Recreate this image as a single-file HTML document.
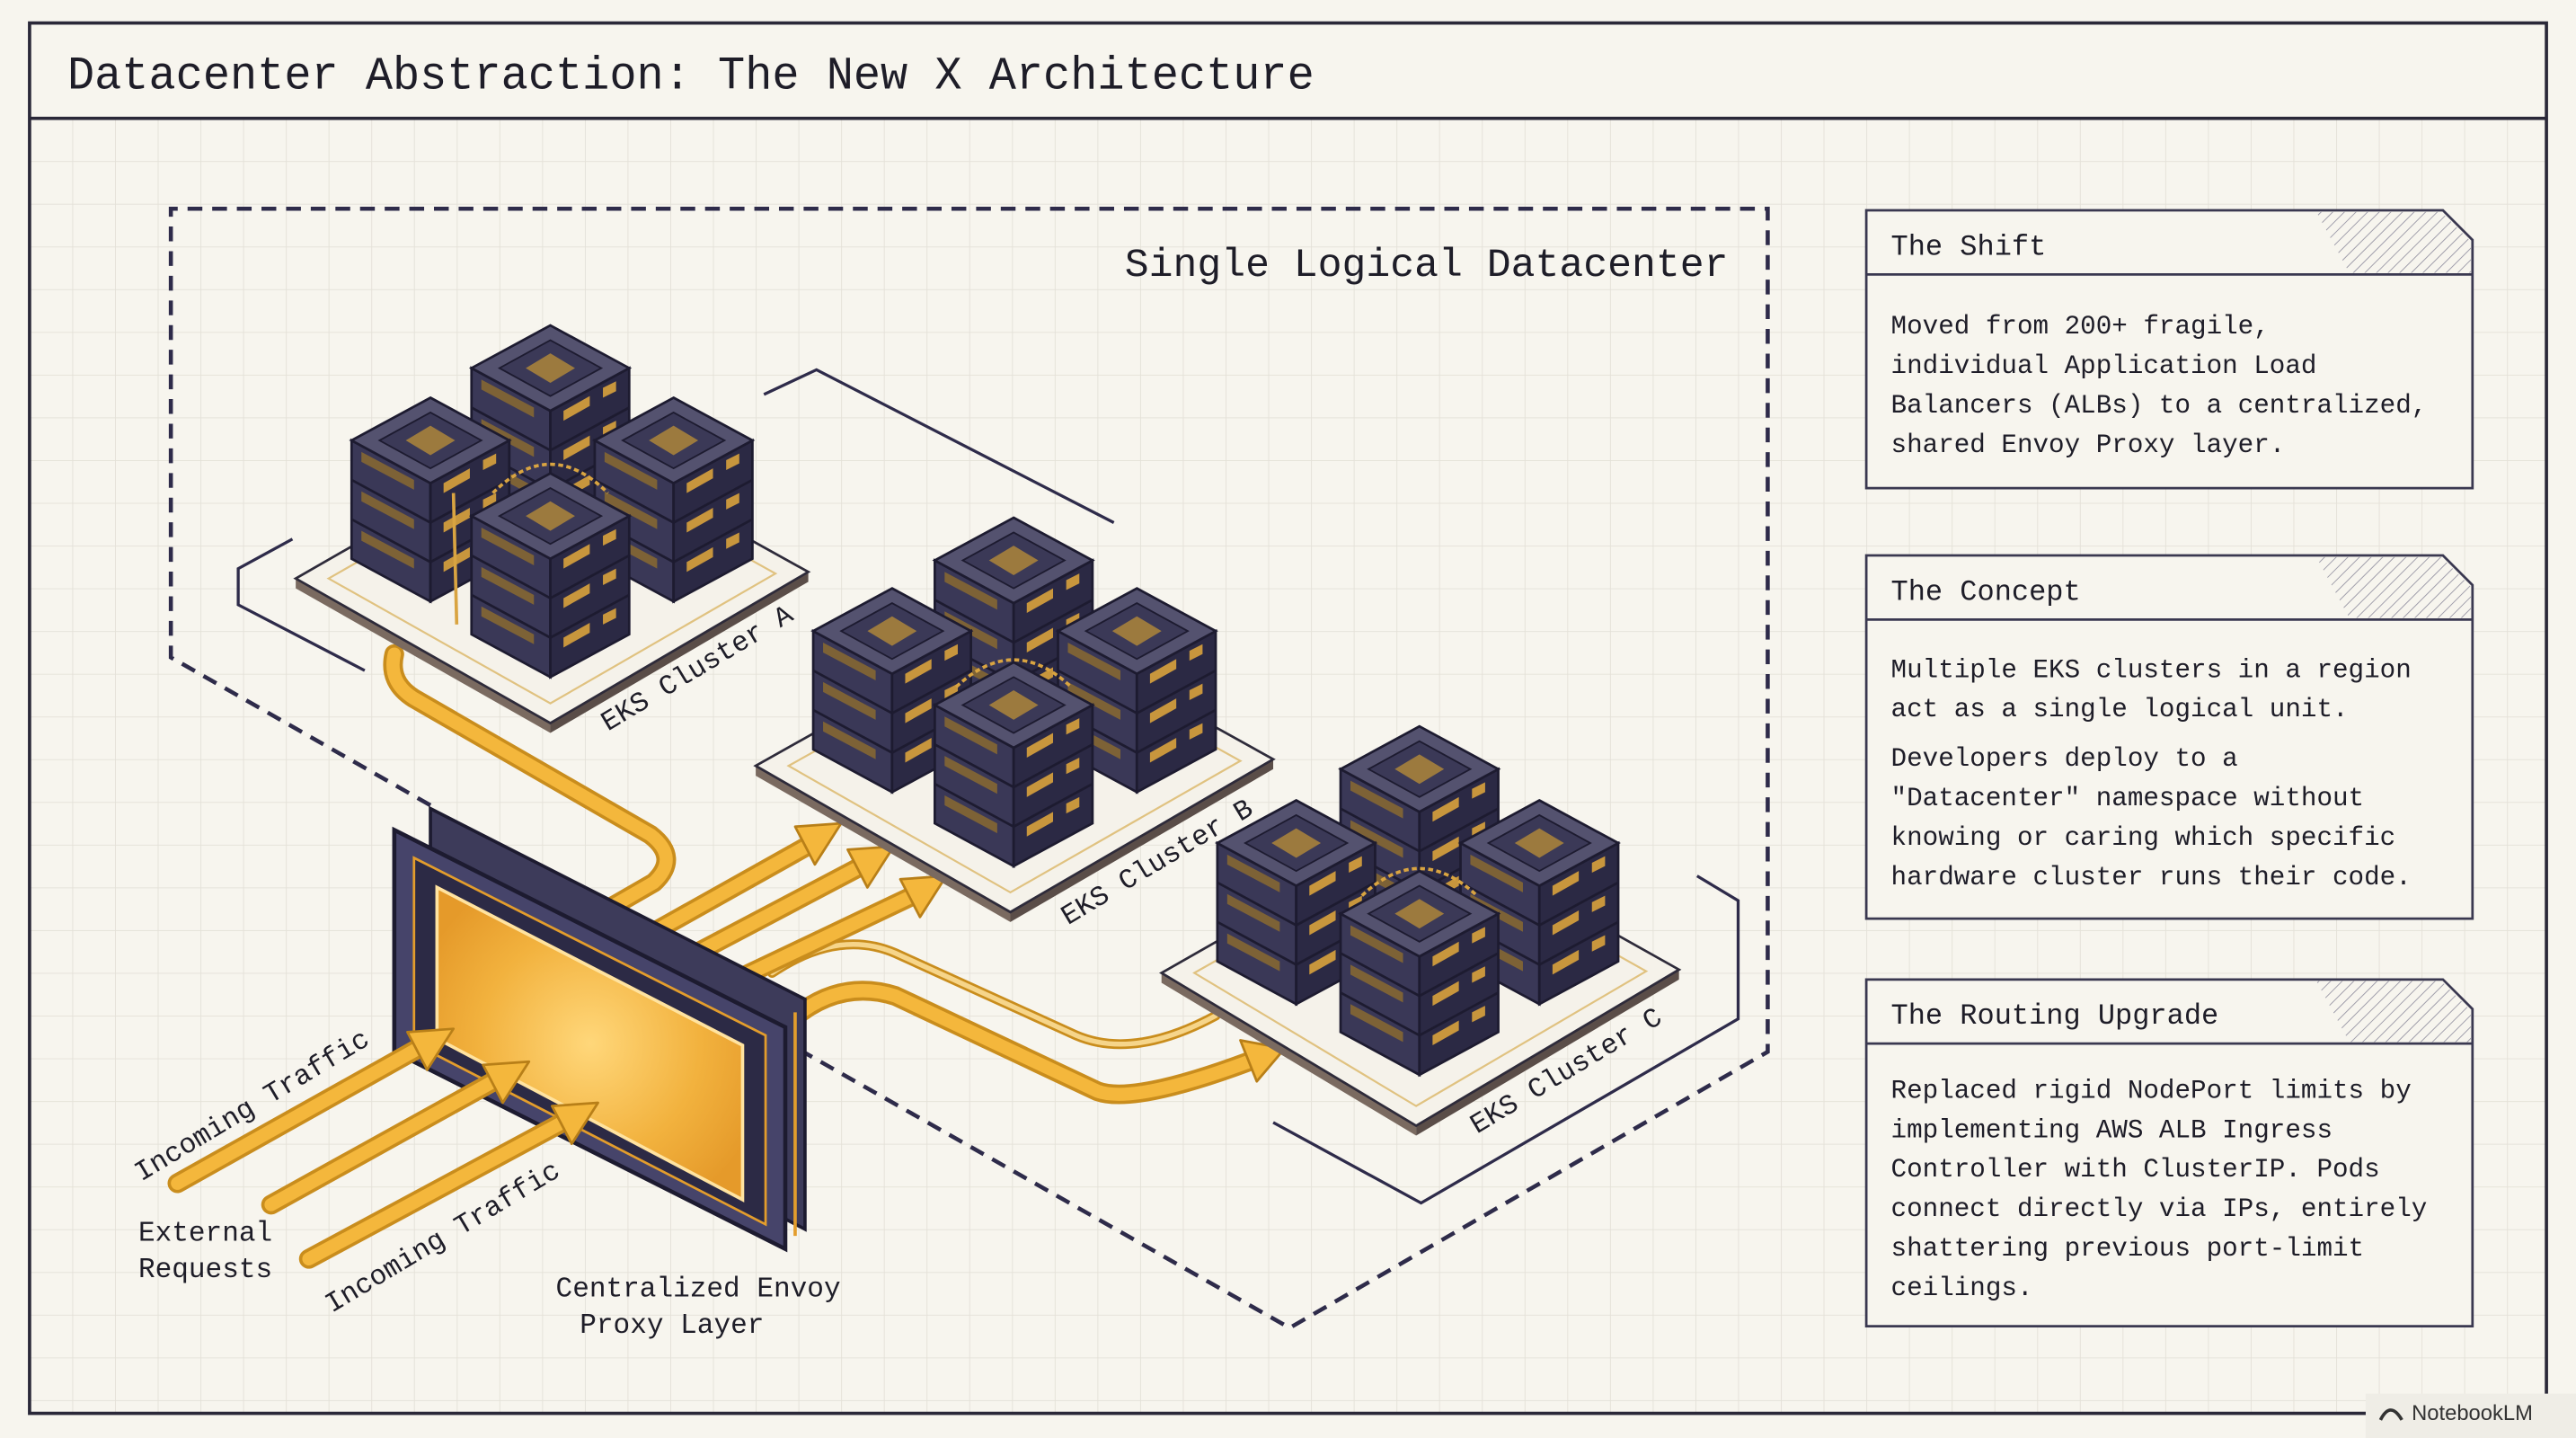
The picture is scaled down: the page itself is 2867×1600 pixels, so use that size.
<!DOCTYPE html>
<html><head><meta charset="utf-8"><style>
html,body{margin:0;padding:0;background:#f7f5ee;}
svg{display:block;}
</style></head><body>
<svg width="2867" height="1600" viewBox="0 0 1568 875" preserveAspectRatio="none" xmlns="http://www.w3.org/2000/svg">
<defs>
<pattern id="grid" width="26" height="26" patternUnits="userSpaceOnUse" x="18" y="72">
<path d="M26 0 L0 0 0 26" fill="none" stroke="#e4e1d8" stroke-width="1"/>
</pattern>
<pattern id="hatch" width="5" height="5" patternUnits="userSpaceOnUse" patternTransform="rotate(45)">
<line x1="0" y1="0" x2="0" y2="5" stroke="#9a98a6" stroke-width="1"/>
</pattern>
<radialGradient id="scr" cx="0.5" cy="0.5" r="0.6">
<stop offset="0" stop-color="#ffd77a"/><stop offset="0.6" stop-color="#f2b23e"/><stop offset="1" stop-color="#e59a2a"/>
</radialGradient>
<g id="tower">
<polygon points="-48,26 0,52 0,124 -48,98" fill="#3a3857" stroke="#1d1b30" stroke-width="1.5"/>
<polygon points="48,26 0,52 0,124 48,98" fill="#2b2944" stroke="#1d1b30" stroke-width="1.5"/>
<polygon points="0,0 48,26 0,52 -48,26" fill="#54526f" stroke="#1d1b30" stroke-width="1.5"/>
<polygon points="0,9 31,26 0,43 -31,26" fill="#3b3957" stroke="#1d1b30" stroke-width="1"/>
<polygon points="0,17 15,26 0,35 -15,26" fill="#9c7a3e"/>
<line x1="-48" y1="50" x2="0" y2="76" stroke="#1d1b30" stroke-width="1.5"/>
<line x1="-48" y1="74" x2="0" y2="100" stroke="#1d1b30" stroke-width="1.5"/>
<line x1="48" y1="50" x2="0" y2="76" stroke="#1d1b30" stroke-width="1.5"/>
<line x1="48" y1="74" x2="0" y2="100" stroke="#1d1b30" stroke-width="1.5"/>
<polygon points="-42,33 -10,50 -10,56 -42,39" fill="#7d6236"/>
<polygon points="-42,57 -10,74 -10,80 -42,63" fill="#7d6236"/>
<polygon points="-42,81 -10,98 -10,104 -42,87" fill="#7d6236"/>
<polygon points="8,52 24,43 24,49 8,58" fill="#c8963d"/>
<polygon points="8,76 24,67 24,73 8,82" fill="#c8963d"/>
<polygon points="8,100 24,91 24,97 8,106" fill="#c8963d"/>
<polygon points="32,38 40,34 40,40 32,44" fill="#c8963d"/>
<polygon points="32,62 40,58 40,64 32,68" fill="#c8963d"/>
<polygon points="32,86 40,82 40,88 32,92" fill="#c8963d"/>
</g>
</defs>
<rect width="1568" height="875" fill="#f7f5ee"/>
<rect x="18" y="72" width="1532" height="788" fill="url(#grid)"/>
<rect x="18" y="14" width="1532" height="846" fill="none" stroke="#2a2838" stroke-width="2"/>
<line x1="18" y1="72" x2="1550" y2="72" stroke="#2a2838" stroke-width="2"/>
<text x="41" y="54" font-family="Liberation Mono, monospace" font-size="28.5" fill="#1e1d28" textLength="759" lengthAdjust="spacingAndGlyphs">Datacenter Abstraction: The New X Architecture</text>

<path d="M262,490 L104,400 L104,127 L1076,127 L1076,640 L785,808 L480,635" fill="none" stroke="#2e2b4a" stroke-width="2.5" stroke-dasharray="9 6"/>
<text x="1052" y="168" text-anchor="end" font-family="Liberation Mono, monospace" font-size="24.5" fill="#1e1d28">Single Logical Datacenter</text>

<polyline points="178,328 145,346 145,368 222,408" fill="none" stroke="#2e2b4a" stroke-width="1.8"/>
<polyline points="465,240 497,225 678,318" fill="none" stroke="#2e2b4a" stroke-width="1.8"/>
<polyline points="1033,533 1058,548 1058,620 865,732 775,683" fill="none" stroke="#2e2b4a" stroke-width="1.8"/>

<g fill="none" stroke-linecap="round" stroke-linejoin="round">
<path d="M372,552 L398,537 Q414,522 396,508 L252,425 Q236,415 240,398" stroke="#c98d1d" stroke-width="12"/>
<path d="M372,552 L398,537 Q414,522 396,508 L252,425 Q236,415 240,398" stroke="#f4b73c" stroke-width="8"/>
<path d="M470,592 Q510,565 545,580 L655,630 Q690,645 740,618" stroke="#c98d1d" stroke-width="6"/>
<path d="M470,592 Q510,565 545,580 L655,630 Q690,645 740,618" stroke="#f6d58a" stroke-width="3"/>
<path d="M480,622 Q510,595 545,606 L668,664 Q690,672 760,646" stroke="#c98d1d" stroke-width="12"/>
<path d="M480,622 Q510,595 545,606 L668,664 Q690,672 760,646" stroke="#f4b73c" stroke-width="8"/>
<path d="M400,566 L500,510" stroke="#c98d1d" stroke-width="12"/><path d="M400,566 L500,510" stroke="#f4b73c" stroke-width="8"/>
<path d="M420,582 L530,524" stroke="#c98d1d" stroke-width="12"/><path d="M420,582 L530,524" stroke="#f4b73c" stroke-width="8"/>
<path d="M440,600 L562,542" stroke="#c98d1d" stroke-width="12"/><path d="M440,600 L562,542" stroke="#f4b73c" stroke-width="8"/>
</g>
<g fill="#f4b73c" stroke="#b87f18" stroke-width="1.5" stroke-linejoin="round">
<polygon points="512,501 484,503 496,526"/>
<polygon points="544,515 516,517 528,540"/>
<polygon points="576,533 548,535 560,558"/>
<polygon points="782,638 755,633 765,658"/>
</g>

<polygon points="180,352 335,440 335,446 180,358" fill="#7a6a60"/>
<polygon points="335,440 492,348 492,354 335,446" fill="#5a4d48"/>
<polygon points="180,352 337,262 492,348 335,440" fill="#f5f2ea" stroke="#2e2b3a" stroke-width="1.5"/>
<polygon points="200,352 337,274 472,349 335,428" fill="none" stroke="#e0c280" stroke-width="1.2"/>
<polygon points="460,466 615,555 615,561 460,472" fill="#7a6a60"/>
<polygon points="615,555 775,462 775,468 615,561" fill="#5a4d48"/>
<polygon points="460,466 620,376 775,462 615,555" fill="#f5f2ea" stroke="#2e2b3a" stroke-width="1.5"/>
<polygon points="480,466 620,388 755,463 615,543" fill="none" stroke="#e0c280" stroke-width="1.2"/>
<polygon points="707,592 862,685 862,691 707,598" fill="#7a6a60"/>
<polygon points="862,685 1022,590 1022,596 862,691" fill="#5a4d48"/>
<polygon points="707,592 865,502 1022,590 862,685" fill="#f5f2ea" stroke="#2e2b3a" stroke-width="1.5"/>
<polygon points="727,592 865,514 1002,591 862,673" fill="none" stroke="#e0c280" stroke-width="1.2"/>

<use href="#tower" x="335" y="198"/><use href="#tower" x="262" y="242"/><use href="#tower" x="410" y="242"/>
<path d="M300,300 Q335,265 370,300" fill="none" stroke="#d9a441" stroke-width="2" stroke-dasharray="3 2"/>
<line x1="276" y1="300" x2="278" y2="380" stroke="#d9a441" stroke-width="2"/>
<use href="#tower" x="335" y="288"/>
<use href="#tower" x="617" y="315"/><use href="#tower" x="543" y="358"/><use href="#tower" x="692" y="358"/>
<path d="M582,418 Q617,385 652,418" fill="none" stroke="#d9a441" stroke-width="2" stroke-dasharray="3 2"/>
<use href="#tower" x="617" y="403"/>
<use href="#tower" x="864" y="442"/><use href="#tower" x="789" y="487"/><use href="#tower" x="937" y="487"/>
<path d="M829,545 Q864,512 899,545" fill="none" stroke="#d9a441" stroke-width="2" stroke-dasharray="3 2"/>
<use href="#tower" x="864" y="530"/>

<g font-family="Liberation Mono, monospace" font-size="17" fill="#1e1d28">
<text transform="translate(370,445) rotate(-31)">EKS Cluster A</text>
<text transform="translate(650,563) rotate(-31)">EKS Cluster B</text>
<text transform="translate(899,690) rotate(-31)">EKS Cluster C</text>
</g>

<polygon points="262,492 490,608 490,748 262,628" fill="#3d3b5a" stroke="#1d1b30" stroke-width="2"/>
<polygon points="240,505 478,625 478,760 240,640" fill="#46446a" stroke="#1d1b30" stroke-width="2.5"/>
<polygon points="252,522 466,630 466,745 252,635" fill="#2c2a45" stroke="#e39d2c" stroke-width="1.5"/>
<polygon points="266,540 452,636 452,730 266,632" fill="url(#scr)" stroke="#ffe3a0" stroke-width="2"/>
<line x1="484" y1="616" x2="484" y2="752" stroke="#e39d2c" stroke-width="2"/>

<g fill="none" stroke-linecap="round">
<path d="M108,720 L258,636" stroke="#c98d1d" stroke-width="12"/><path d="M108,720 L258,636" stroke="#f4b73c" stroke-width="8"/>
<path d="M165,733 L304,656" stroke="#c98d1d" stroke-width="12"/><path d="M165,733 L304,656" stroke="#f4b73c" stroke-width="8"/>
<path d="M188,766 L346,681" stroke="#c98d1d" stroke-width="12"/><path d="M188,766 L346,681" stroke="#f4b73c" stroke-width="8"/>
</g>
<g fill="#f4b73c" stroke="#b87f18" stroke-width="1.5" stroke-linejoin="round">
<polygon points="276,626 248,628 260,651"/>
<polygon points="322,646 294,648 306,671"/>
<polygon points="364,671 336,673 348,696"/>
</g>

<g font-family="Liberation Mono, monospace" font-size="17" fill="#1e1d28">
<text transform="translate(86,719) rotate(-31)">Incoming Traffic</text>
<text transform="translate(202,799) rotate(-31)">Incoming Traffic</text>
<text x="125" y="755" text-anchor="middle">External</text>
<text x="125" y="777" text-anchor="middle">Requests</text>
<text x="425" y="789" text-anchor="middle">Centralized Envoy</text>
<text x="409" y="811" text-anchor="middle">Proxy Layer</text>
</g>

<g font-family="Liberation Mono, monospace" fill="#1e1d28">
<g>
<polygon points="1136,128 1487,128 1505,146 1505,297 1136,297" fill="#f7f5ee" stroke="#3a3850" stroke-width="1.5"/>
<polygon points="1410,129 1486,129 1504,147 1504,166 1430,166" fill="url(#hatch)"/>
<line x1="1136" y1="167" x2="1505" y2="167" stroke="#3a3850" stroke-width="1.5"/>
<text x="1151" y="155" font-size="17.5">The Shift</text>
<g font-size="16"><text x="1151" y="203">Moved from 200+ fragile,</text><text x="1151" y="227">individual Application Load</text><text x="1151" y="251">Balancers (ALBs) to a centralized,</text><text x="1151" y="275">shared Envoy Proxy layer.</text></g>
</g>
<g>
<polygon points="1136,338 1487,338 1505,356 1505,559 1136,559" fill="#f7f5ee" stroke="#3a3850" stroke-width="1.5"/>
<polygon points="1410,339 1486,339 1504,357 1504,376 1430,376" fill="url(#hatch)"/>
<line x1="1136" y1="377" x2="1505" y2="377" stroke="#3a3850" stroke-width="1.5"/>
<text x="1151" y="365" font-size="17.5">The Concept</text>
<g font-size="16"><text x="1151" y="412">Multiple EKS clusters in a region</text><text x="1151" y="436">act as a single logical unit.</text><text x="1151" y="466">Developers deploy to a</text><text x="1151" y="490">"Datacenter" namespace without</text><text x="1151" y="514">knowing or caring which specific</text><text x="1151" y="538">hardware cluster runs their code.</text></g>
</g>
<g>
<polygon points="1136,596 1487,596 1505,614 1505,807 1136,807" fill="#f7f5ee" stroke="#3a3850" stroke-width="1.5"/>
<polygon points="1410,597 1486,597 1504,615 1504,634 1430,634" fill="url(#hatch)"/>
<line x1="1136" y1="635" x2="1505" y2="635" stroke="#3a3850" stroke-width="1.5"/>
<text x="1151" y="623" font-size="17.5">The Routing Upgrade</text>
<g font-size="16"><text x="1151" y="668">Replaced rigid NodePort limits by</text><text x="1151" y="692">implementing AWS ALB Ingress</text><text x="1151" y="716">Controller with ClusterIP. Pods</text><text x="1151" y="740">connect directly via IPs, entirely</text><text x="1151" y="764">shattering previous port-limit</text><text x="1151" y="788">ceilings.</text></g>
</g>
</g>

<rect x="1440" y="848" width="128" height="27" fill="#efede6"/>
<text x="1468" y="864" font-family="Liberation Sans, sans-serif" font-size="13" fill="#333">NotebookLM</text>
<path d="M1449,864 Q1455,852 1462,864" fill="none" stroke="#333" stroke-width="2"/>
</svg>
</body></html>
